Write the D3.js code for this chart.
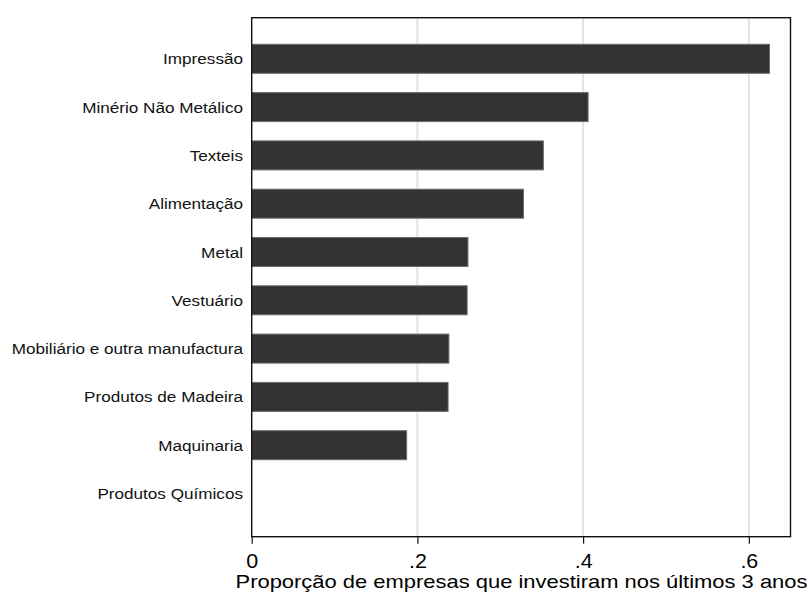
<!DOCTYPE html>
<html><head><meta charset="utf-8">
<script src="https://cdn.jsdelivr.net/npm/d3@7"></script>
<style>body{margin:0;background:#fff}</style>
</head><body>
<svg id="c" width="810" height="593"></svg>
<script>
const categories = ["Impressão","Minério Não Metálico","Texteis","Alimentação","Metal","Vestuário","Mobiliário e outra manufactura","Produtos de Madeira","Maquinaria","Produtos Químicos"];
const values = [0.625,0.406,0.352,0.328,0.261,0.260,0.238,0.237,0.187,0];
const tickValues = [0,0.2,0.4,0.6];
const tickLabels = ["0",".2",".4",".6"];

const FONT = "Liberation Sans, Arial, sans-serif";
const svg = d3.select("#c");
const L=251.7, R=790.5, T=17.7, B=536.7;
const x = d3.scaleLinear().domain([0,0.6503]).range([L,R]);
const y = d3.scaleBand().domain(categories).range([34.65,517.65]).paddingInner(0.4).paddingOuter(0.2);

svg.append("rect").attr("width",810).attr("height",593).attr("fill","#fff");
// grid
svg.append("g").selectAll("line").data(tickValues.slice(1)).join("line")
  .attr("x1",d=>x(d)).attr("x2",d=>x(d)).attr("y1",T).attr("y2",B)
  .attr("stroke","#e3e3e3").attr("stroke-width",2);
// bars
svg.append("g").selectAll("rect").data(categories).join("rect")
  .attr("x",x(0)).attr("y",d=>y(d)).attr("height",y.bandwidth())
  .attr("width",(d,i)=>Math.max(0,x(values[i])-x(0)))
  .attr("fill","#333333").attr("stroke",(d,i)=>values[i]>0?"#6a6a6a":"none").attr("stroke-width",1);
// frame
svg.append("rect").attr("x",L).attr("y",T).attr("width",R-L).attr("height",B-T)
  .attr("fill","none").attr("stroke","#111").attr("stroke-width",1.4);
// y labels (horizontally stretched like the reference)
svg.append("g").selectAll("text").data(categories).join("text")
  .attr("transform",d=>`translate(243,${y(d)+y.bandwidth()/2}) scale(1.105,1)`)
  .attr("dy","0.36em")
  .attr("text-anchor","end").attr("font-family",FONT)
  .attr("font-size",15.5).attr("fill","#111").text(d=>d);
// x axis
const xAxis = d3.axisBottom(x).tickValues(tickValues).tickFormat((d,i)=>tickLabels[i]).tickSize(7);
const gx = svg.append("g").attr("transform",`translate(0,${B})`).call(xAxis);
gx.select(".domain").remove();
gx.selectAll(".tick line").attr("stroke","#111").attr("stroke-width",1.2);
gx.selectAll(".tick text").attr("y",31).attr("dy",0).attr("transform","scale(1.1,1)")
  .attr("font-family",FONT).attr("font-size",19.5).attr("fill","#000");
svg.append("text").attr("x",521.5).attr("y",588).attr("text-anchor","middle")
  .attr("textLength",572).attr("lengthAdjust","spacingAndGlyphs")
  .attr("font-family",FONT).attr("font-size",18.5).attr("fill","#000")
  .text("Proporção de empresas que investiram nos últimos 3 anos");
</script>
</body></html>
